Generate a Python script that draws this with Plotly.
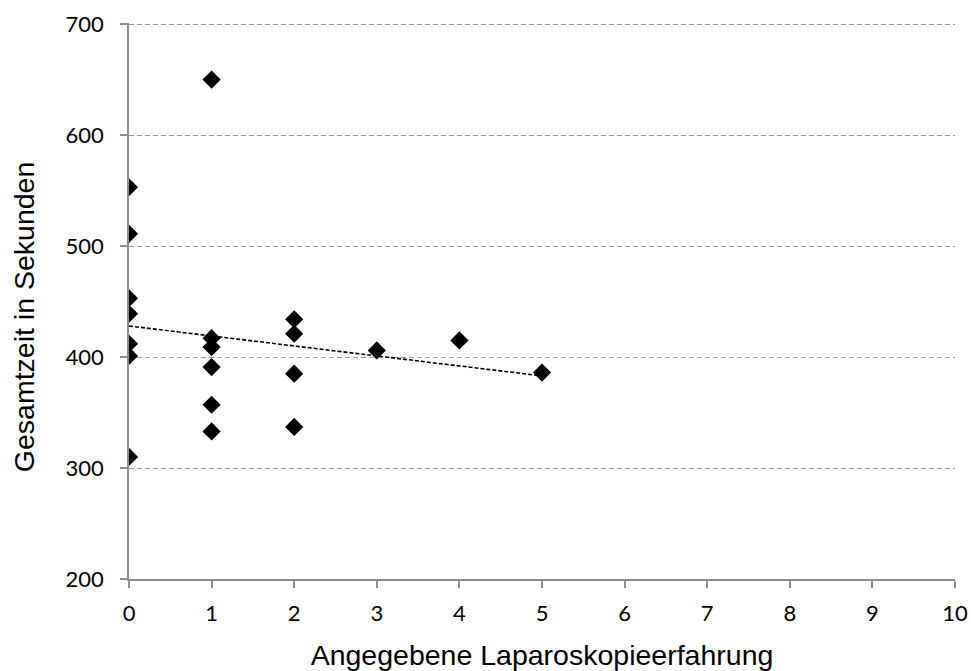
import plotly.graph_objects as go

# Laparoscopy experience vs. total time in seconds
experience = [0, 0, 0, 0, 0, 0, 0,
              1, 1, 1, 1, 1, 1,
              2, 2, 2, 2,
              3, 4, 5]
total_time = [553, 511, 453, 439, 412, 401, 310,
              650, 417, 409, 391, 357, 333,
              434, 421, 385, 337,
              406, 415, 386]

# Linear trend line endpoints
trend_x = [0, 5]
trend_y = [428, 383]

x_ticks = list(range(0, 11))
y_ticks = [200, 300, 400, 500, 600, 700]

title_font = dict(size=28.5, family="Liberation Sans, Arial, sans-serif", color="black")
tick_font = dict(size=22, family="Lato, sans-serif", color="black")

fig = go.Figure()

fig.add_trace(go.Scatter(
    x=trend_x, y=trend_y, mode="lines",
    line=dict(color="black", width=1.6, dash="4px,2px"),
    hoverinfo="skip", showlegend=False,
))

fig.add_trace(go.Scatter(
    x=experience, y=total_time, mode="markers",
    marker=dict(symbol="diamond", size=14, color="black"),
    showlegend=False,
))

fig.update_layout(
    width=971, height=671,
    margin=dict(l=129, r=16, t=23, b=92, autoexpand=False),
    plot_bgcolor="white", paper_bgcolor="white",
    font=dict(family="Lato, Liberation Sans, sans-serif", color="black"),
)

fig.update_xaxes(
    range=[0, 10], tickvals=x_ticks, ticktext=[str(v) for v in x_ticks],
    showgrid=False, zeroline=False, automargin=False,
    showline=True, linecolor="#8c8c8c", linewidth=1.5,
    ticks="outside", ticklen=7, tickcolor="#8c8c8c", tickwidth=1.5,
    tickfont=tick_font, ticklabelstandoff=7,
    title=dict(text="Angegebene Laparoskopieerfahrung", font=title_font, standoff=22),
)

fig.update_yaxes(
    range=[200, 701], tickvals=y_ticks, ticktext=[str(v) for v in y_ticks],
    showgrid=True, gridcolor="#9a9a9a", gridwidth=1.2, griddash="5px,3px",
    zeroline=False, automargin=False,
    showline=True, linecolor="#8c8c8c", linewidth=1.5,
    ticks="outside", ticklen=7, tickcolor="#8c8c8c", tickwidth=1.5,
    tickfont=tick_font, ticklabelstandoff=12,
)

# Y axis title, placed as a rotated annotation
fig.add_annotation(
    text="Gesamtzeit in Sekunden", textangle=-90,
    xref="paper", yref="paper", x=-0.127, y=0.471,
    xanchor="center", yanchor="middle", showarrow=False,
    font=title_font,
)

fig.write_html("out.html")
